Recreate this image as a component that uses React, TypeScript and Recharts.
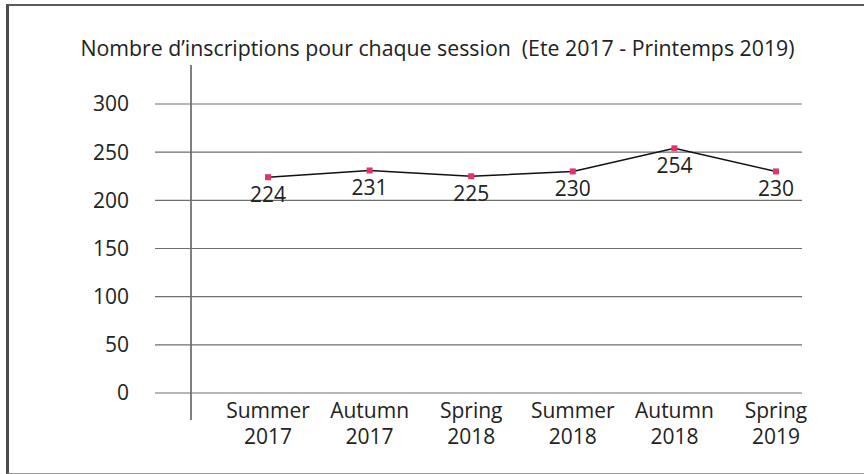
import React from 'react';
import { LineChart, Line, XAxis, YAxis, CartesianGrid, LabelList } from 'recharts';

const sessions = ['Summer 2017', 'Autumn 2017', 'Spring 2018', 'Summer 2018', 'Autumn 2018', 'Spring 2019'];
const inscriptions = [224, 231, 225, 230, 254, 230];
const yTicks = [0, 50, 100, 150, 200, 250, 300];

const data = sessions.map((s, i) => ({ session: s, value: inscriptions[i] }));

const font = '"Open Sans", sans-serif';

const SessionTick = (props: any) => {
    const { x, y, payload } = props;
    const parts = String(payload.value).split(' ');
    return (
        <g transform={`translate(${x},${y})`}>
            {parts.map((p: string, i: number) => (
                <text key={i} x={0} y={17 + i * 26} textAnchor="middle" fill="#222" fontSize={21} fontFamily={font}>
                    {p}
                </text>
            ))}
        </g>
    );
};

const Square = (props: any) => {
    const { cx, cy } = props;
    if (cx == null || cy == null) return null;
    return <rect x={cx - 3} y={cy - 3} width={6} height={6} fill="#E2336B" />;
};

const App = () => (
    <div style={{ position: 'absolute', left: 0, top: 0, width: 864, height: 474, overflow: 'hidden', background: '#fff', fontFamily: font }}>
        <div style={{ position: 'absolute', left: 6, top: 4, width: 900, height: 467, borderTop: '2px solid #5a5a5a', borderLeft: '3px solid #4a4a4a', borderBottom: '1px solid #999' }} />
        <div style={{ position: 'absolute', left: 0, top: 33, width: 875, textAlign: 'center', fontSize: 21.3, color: '#222', whiteSpace: 'pre' }}>
            {'Nombre d\u2019inscriptions pour chaque session  (Ete 2017 - Printemps 2019)'}
        </div>
        <div style={{ position: 'absolute', left: 190, top: 65, width: 1.5, height: 355, background: '#7f7f7f' }} />
        <div style={{ position: 'absolute', left: 0, top: 0 }}>
            <LineChart width={864} height={474} data={data} margin={{ top: 104, right: 62, left: 85, bottom: 21 }}>
                <CartesianGrid vertical={false} stroke="#6e6e6e" strokeWidth={1.2} />
                <XAxis
                    dataKey="session"
                    scale="point"
                    padding={{ left: 113, right: 26 }}
                    axisLine={false}
                    tickLine={false}
                    tick={<SessionTick />}
                    height={60}
                    interval={0}
                />
                <YAxis
                    domain={[0, 300]}
                    ticks={yTicks}
                    width={70}
                    axisLine={false}
                    tickLine={false}
                    tickMargin={20}
                    tick={{ fill: '#222', fontSize: 21, fontFamily: font }}
                />
                <Line
                    type="linear"
                    dataKey="value"
                    stroke="#111"
                    strokeWidth={1.5}
                    dot={<Square />}
                    activeDot={false}
                    isAnimationActive={false}
                >
                    <LabelList dataKey="value" position="bottom" offset={10} fill="#222" fontSize={21} fontFamily={font} />
                </Line>
            </LineChart>
        </div>
    </div>
);

export default App;
